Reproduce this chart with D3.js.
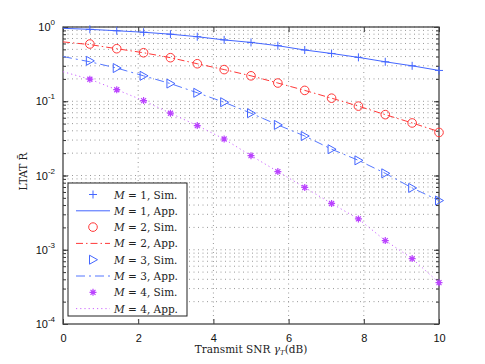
<!DOCTYPE html>
<html>
<head>
<meta charset="utf-8">
<script src="https://cdn.jsdelivr.net/npm/d3@7"></script>
<style>
  body { margin: 0; background: #fff; }
  svg { display: block; }
</style>
</head>
<body>
<div id="chart"></div>
<script>
// sim points (x in dB)
const simX = [0.714, 1.429, 2.143, 2.857, 3.571, 4.286, 5.0, 5.714, 6.429, 7.143, 7.857, 8.571, 9.286, 10.0];
const simM1 = [0.93, 0.89, 0.85, 0.80, 0.74, 0.67, 0.62, 0.56, 0.49, 0.44, 0.39, 0.34, 0.30, 0.26];
const simM2 = [0.59, 0.51, 0.45, 0.386, 0.32, 0.267, 0.22, 0.176, 0.14, 0.11, 0.086, 0.066, 0.051, 0.038];
const simM3 = [0.35, 0.28, 0.22, 0.173, 0.13, 0.097, 0.069, 0.048, 0.034, 0.0226, 0.016, 0.0107, 0.0068, 0.0046];
const simM4 = [0.198, 0.143, 0.102, 0.069, 0.047, 0.031, 0.0185, 0.0113, 0.0069, 0.0042, 0.0026, 0.00133, 0.00076, 0.00036];

// approximation curves
const appX = [0, 0.714, 1.429, 2.143, 2.857, 3.571, 4.286, 5.0, 5.714, 6.429, 7.143, 7.857, 8.571, 9.286, 10.0];
const appM1 = [0.96, 0.93, 0.89, 0.85, 0.80, 0.74, 0.67, 0.62, 0.56, 0.49, 0.44, 0.39, 0.34, 0.30, 0.26];
const appM2 = [0.63, 0.58, 0.51, 0.45, 0.386, 0.32, 0.267, 0.22, 0.176, 0.14, 0.11, 0.086, 0.066, 0.051, 0.039];
const appM3 = [0.40, 0.34, 0.28, 0.22, 0.173, 0.13, 0.097, 0.069, 0.048, 0.034, 0.0226, 0.016, 0.0107, 0.0068, 0.0046];
const appM4 = [0.25, 0.198, 0.143, 0.102, 0.069, 0.047, 0.031, 0.0185, 0.0113, 0.0069, 0.0042, 0.0026, 0.00133, 0.00076, 0.00036];

const xTicks = [0, 2, 4, 6, 8, 10];
const yTicks = [1e-4, 1e-3, 1e-2, 1e-1, 1];
const legendLabels = ["1, Sim.", "1, App.", "2, Sim.", "2, App.", "3, Sim.", "3, App.", "4, Sim.", "4, App."];

const blue = "#4466ff", red = "#ff3838", magenta = "#bb44ff";

const series = [
    { sim: simM1, app: appM1, color: blue, marker: "plus", dash: null, appColor: blue },
    { sim: simM2, app: appM2, color: red, marker: "circle", dash: "7,3,1.5,3", appColor: red },
    { sim: simM3, app: appM3, color: blue, marker: "tri", dash: "9,4,2,4", appColor: "#5577ff" },
    { sim: simM4, app: appM4, color: magenta, marker: "star", dash: "1.2,3", appColor: "#cc66ff" },
];

const W = 485, H = 364;
const margin = { top: 27, right: 46, bottom: 40, left: 63 };
const width = W - margin.left - margin.right;
const height = H - margin.top - margin.bottom;

const svg = d3.select("#chart").append("svg")
    .attr("width", W).attr("height", H);
const g = svg.append("g").attr("transform", `translate(${margin.left},${margin.top})`);

const x = d3.scaleLinear().domain([0, 10]).range([0, width]);
const y = d3.scaleLog().domain([1e-4, 1]).range([height, 0]);

// grid
const minor = [];
for (let e = -4; e < 0; e++) for (let k = 1; k <= 9; k++) minor.push(k * Math.pow(10, e));
minor.push(1);
g.append("g").selectAll("line").data(minor.slice(1)).join("line")
    .attr("x1", 0).attr("x2", width)
    .attr("y1", d => y(d)).attr("y2", d => y(d))
    .attr("stroke", "#999").attr("stroke-width", 1).attr("stroke-dasharray", "1,3.5");
g.append("g").selectAll("line").data(xTicks.slice(1, -1)).join("line")
    .attr("x1", d => x(d)).attr("x2", d => x(d))
    .attr("y1", 0).attr("y2", height)
    .attr("stroke", "#999").attr("stroke-width", 1).attr("stroke-dasharray", "1,3.5");

// axes with inward ticks
const tickFont = "'Liberation Sans', Arial, sans-serif";
const xAxis = g.append("g").attr("transform", `translate(0,${height})`)
    .call(d3.axisBottom(x).tickValues(xTicks).tickSize(-5).tickPadding(10).tickFormat(d3.format("d")));
g.append("g").call(d3.axisTop(x).tickValues(xTicks).tickSize(-5).tickFormat(""));
g.append("g").call(d3.axisLeft(y).tickValues(minor).tickSize(-3).tickFormat(""));
g.append("g").call(d3.axisLeft(y).tickValues(yTicks).tickSize(-5).tickFormat(""));
g.append("g").attr("transform", `translate(${width},0)`)
    .call(d3.axisRight(y).tickValues(minor).tickSize(-3).tickFormat(""));
g.append("g").attr("transform", `translate(${width},0)`)
    .call(d3.axisRight(y).tickValues(yTicks).tickSize(-5).tickFormat(""));
g.selectAll(".domain").remove();
g.selectAll(".tick line").attr("stroke", "#333");
xAxis.selectAll("text").attr("font-family", tickFont).attr("font-size", 11).attr("fill", "#111");

// y tick labels 10^e
g.append("g").selectAll("text").data(yTicks).join("text")
    .attr("x", -8).attr("y", d => y(d) + 4)
    .attr("text-anchor", "end")
    .attr("font-family", tickFont).attr("font-size", 11).attr("fill", "#111")
    .each(function (d) {
        const t = d3.select(this);
        t.append("tspan").text("10");
        t.append("tspan").attr("dy", -6).attr("font-size", 8).text(Math.round(Math.log10(d)));
    });

// frame
g.append("rect").attr("width", width).attr("height", height)
    .attr("fill", "none").attr("stroke", "#444").attr("stroke-width", 1.3);

// curves
const line = d3.line().x(d => x(d[0])).y(d => y(d[1]));
const plot = g.append("g");
series.forEach(s => {
    plot.append("path")
        .datum(appX.map((v, i) => [v, s.app[i]]))
        .attr("d", line)
        .attr("fill", "none").attr("stroke", s.appColor).attr("stroke-width", 1)
        .attr("stroke-dasharray", s.dash);
});

function drawMarker(sel, type, color) {
    if (type === "plus") {
        sel.append("path").attr("d", "M-4,0H4M0,-4V4").attr("stroke", color).attr("stroke-width", 1).attr("fill", "none");
    } else if (type === "circle") {
        sel.append("circle").attr("r", 4.3).attr("stroke", color).attr("stroke-width", 1).attr("fill", "none");
    } else if (type === "tri") {
        sel.append("path").attr("d", "M-3.5,-4.5L4.5,0L-3.5,4.5Z").attr("stroke", color).attr("stroke-width", 1).attr("fill", "none");
    } else {
        sel.append("path").attr("d", "M-3.5,0H3.5M0,-3.5V3.5M-2.5,-2.5L2.5,2.5M-2.5,2.5L2.5,-2.5")
            .attr("stroke", color).attr("stroke-width", 1.2).attr("fill", "none");
        sel.append("circle").attr("r", 1.8).attr("fill", color);
    }
}

series.forEach(s => {
    plot.append("g").selectAll("g").data(simX.map((v, i) => [v, s.sim[i]])).join("g")
        .attr("transform", d => `translate(${x(d[0])},${y(d[1])})`)
        .each(function () { drawMarker(d3.select(this), s.marker, s.color); });
});

// legend
const serif = "'DejaVu Serif', 'Liberation Serif', serif";
const lg = svg.append("g").attr("transform", "translate(68,183)");
lg.append("rect").attr("width", 119).attr("height", 133)
    .attr("fill", "#fff").attr("stroke", "#222").attr("stroke-width", 1);
legendLabels.forEach((lab, i) => {
    const s = series[Math.floor(i / 2)];
    const yy = 11.5 + i * 16.3;
    const item = lg.append("g").attr("transform", `translate(0,${yy})`);
    if (i % 2 === 0) {
        drawMarker(item.append("g").attr("transform", "translate(25,0)"), s.marker, s.color);
    } else {
        item.append("line").attr("x1", 8).attr("x2", 42).attr("y1", 0).attr("y2", 0)
            .attr("stroke", s.appColor).attr("stroke-width", 1).attr("stroke-dasharray", s.dash);
    }
    const t = item.append("text").attr("x", 46).attr("y", 4)
        .attr("font-family", serif).attr("font-size", 10.5).attr("fill", "#222");
    t.append("tspan").attr("font-style", "italic").text("M");
    t.append("tspan").text(" = " + lab);
});

// axis labels
const xl = svg.append("text").attr("x", margin.left + width / 2).attr("y", 353)
    .attr("text-anchor", "middle").attr("font-family", serif).attr("font-size", 10.5).attr("fill", "#222");
xl.append("tspan").text("Transmit SNR ");
xl.append("tspan").attr("font-style", "italic").text("γ");
xl.append("tspan").attr("font-style", "italic").attr("font-size", 7).attr("dy", 2).text("T");
xl.append("tspan").attr("dy", -2).text("(dB)");

const yl = svg.append("text")
    .attr("transform", `translate(27,${margin.top + height / 2 - 4}) rotate(-90)`)
    .attr("text-anchor", "middle").attr("font-family", serif).attr("font-size", 10.5).attr("fill", "#222");
yl.append("tspan").text("LTAT ");
yl.append("tspan").attr("font-family", "'DejaVu Serif', serif").text("R\u0304");
</script>
</body>
</html>
